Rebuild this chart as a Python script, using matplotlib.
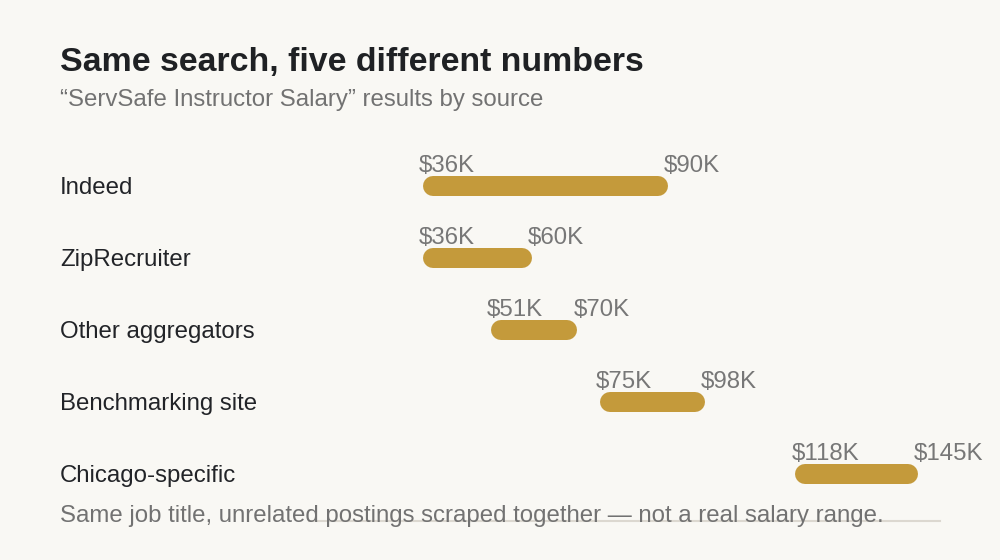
import matplotlib
matplotlib.use("Agg")
import matplotlib.pyplot as plt
import matplotlib.transforms as mtransforms
from matplotlib.lines import Line2D

plt.rcParams['font.family'] = ['Liberation Sans', 'DejaVu Sans']

sources = ["Indeed", "ZipRecruiter", "Other aggregators", "Benchmarking site", "Chicago-specific"]
low_k = [36, 36, 51, 75, 118]
high_k = [90, 60, 70, 98, 145]

bg = '#f9f8f4'
gold = '#c49a3b'
W, H = 1000, 560

fig = plt.figure(figsize=(W / 100, H / 100), dpi=100, facecolor=bg)
ax = fig.add_axes([0, 0, 1, 1])
ax.set_facecolor(bg)
ax.set_axis_off()
# x in $K, y in row index (rows 72px apart, first row centred at 186px)
x0, x1 = -57.14, 163.07
ax.set_xlim(x0, x1)
ax.set_ylim(5.194, -2.583)

px_per_k = W / (x1 - x0)
bar_h = 20  # px
cap = (bar_h / 2) / px_per_k

def px_offset(dx, dy):
    return mtransforms.ScaledTranslation(dx / 100, -dy / 100, fig.dpi_scale_trans)

fs = 17.3
for i, (src, lo, hi) in enumerate(zip(sources, low_k, high_k)):
    ax.plot([lo + cap, hi - cap], [i, i], color=gold, lw=bar_h * 0.72,
            solid_capstyle='round')
    for v in (lo, hi):
        ax.text(v, i, f"${v}K", ha='left', va='baseline', fontsize=fs, color='#777777',
                transform=ax.transData + px_offset(-4, -14))
    ax.text(60 / W, i, src, ha='left', va='baseline', fontsize=fs, color='#222428',
            transform=mtransforms.blended_transform_factory(ax.transAxes, ax.transData) + px_offset(0, 8))

fig.text(60 / W, 1 - 71 / H, "Same search, five different numbers", fontsize=24.4, fontweight='bold',
         color='#1f2124', ha='left', va='baseline')
fig.text(60 / W, 1 - 106 / H, "\u201cServSafe Instructor Salary\u201d results by source", fontsize=fs,
         color='#727272', ha='left', va='baseline')

fig.add_artist(Line2D([309 / W, 940 / W], [1 - 521 / H] * 2, color='#dcd8d0', lw=1.5))
fig.text(60 / W, 1 - 522 / H,
         "Same job title, unrelated postings scraped together \u2014 not a real salary range.",
         fontsize=fs, color='#727272', ha='left', va='baseline')

fig.savefig("out.png", dpi=100, facecolor=bg)
